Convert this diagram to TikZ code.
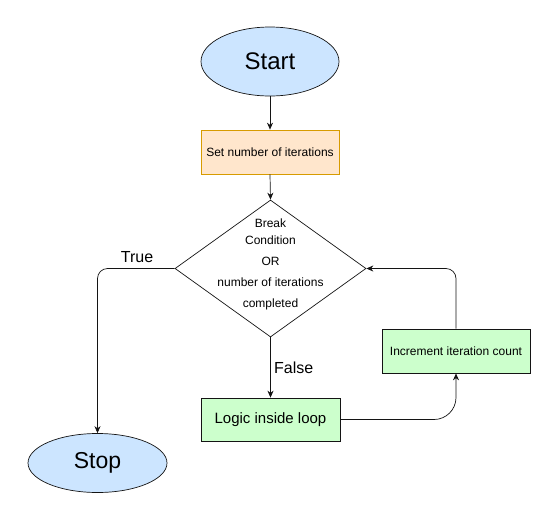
\documentclass[tikz,border=0pt]{standalone}
\usepackage{fontspec}
\setmainfont{Liberation Sans}
\usetikzlibrary{shapes.geometric,arrows.meta}
\definecolor{Terminal}{RGB}{204,229,255}
\definecolor{Setup}{RGB}{255,230,204}
\definecolor{SetupBorder}{RGB}{215,155,0}
\definecolor{Step}{RGB}{204,255,204}
\definecolor{Edge}{RGB}{20,20,20}

\begin{document}
\begin{tikzpicture}[x=1pt, y=-1pt, line width=0.7pt]
			\tikzstyle{terminal}=[draw=Edge, shape=ellipse, fill=Terminal, inner sep=0pt];
			\tikzstyle{process}=[draw=Edge, shape=rectangle, inner sep=0pt, font=\fontsize{12}{14}\selectfont];
			\tikzstyle{decision}=[draw=Edge, shape=diamond, minimum width=191pt, minimum height=137pt, inner sep=0pt];
			\tikzstyle{flow}=[draw=Edge, -{Stealth[length=7pt, width=6pt]}, rounded corners=10pt];
			\tikzstyle{branch}=[font=\fontsize{16}{19}\selectfont];
			\useasboundingbox (0, 0) rectangle (552, 520);
			\node [terminal, minimum width=138pt, minimum height=69pt, font=\fontsize{24}{28}\selectfont] (start) at (270, 61.5) {Start};
			\node [process, fill=Setup, draw=SetupBorder, minimum width=138pt, minimum height=44pt] (setiter) at (270, 152) {Set number of iterations};
			\node [decision] (cond) at (270.5, 268.5) {};
			\node [align=center, font=\fontsize{12}{17}\selectfont] (condtext) at (270.5, 264.5) {Break\\Condition\\[4pt]OR\\[4pt]number of iterations\\[4pt]completed};
			\node [process, fill=Step, minimum width=139pt, minimum height=43pt, font=\fontsize{15}{18}\selectfont] (logic) at (270.5, 419.5) {Logic inside loop};
			\node [process, fill=Step, minimum width=148pt, minimum height=44pt] (incr) at (456, 351) {Increment iteration count};
			\node [terminal, minimum width=139pt, minimum height=59pt, font=\fontsize{23}{27}\selectfont] (stop) at (97.5, 463) {Stop};
			\node [branch] (truelbl) at (137, 257) {True};
			\draw [flow] (start) -- (setiter);
			\draw [flow] (setiter.south) -- (cond.north);
			\draw [flow] (cond.south) -- node [branch, right] (falselbl) {False} (logic.north);
			\draw [flow] (cond.west) -- (stop.north |- cond.west) -- (stop.north);
			\draw [flow, rounded corners=22pt] (logic.east) -- (incr.south |- logic.east) -- (incr.south);
			\draw [flow] (incr.north) -- (incr.north |- cond.east) -- (cond.east);
		\end{tikzpicture}
\end{document}
